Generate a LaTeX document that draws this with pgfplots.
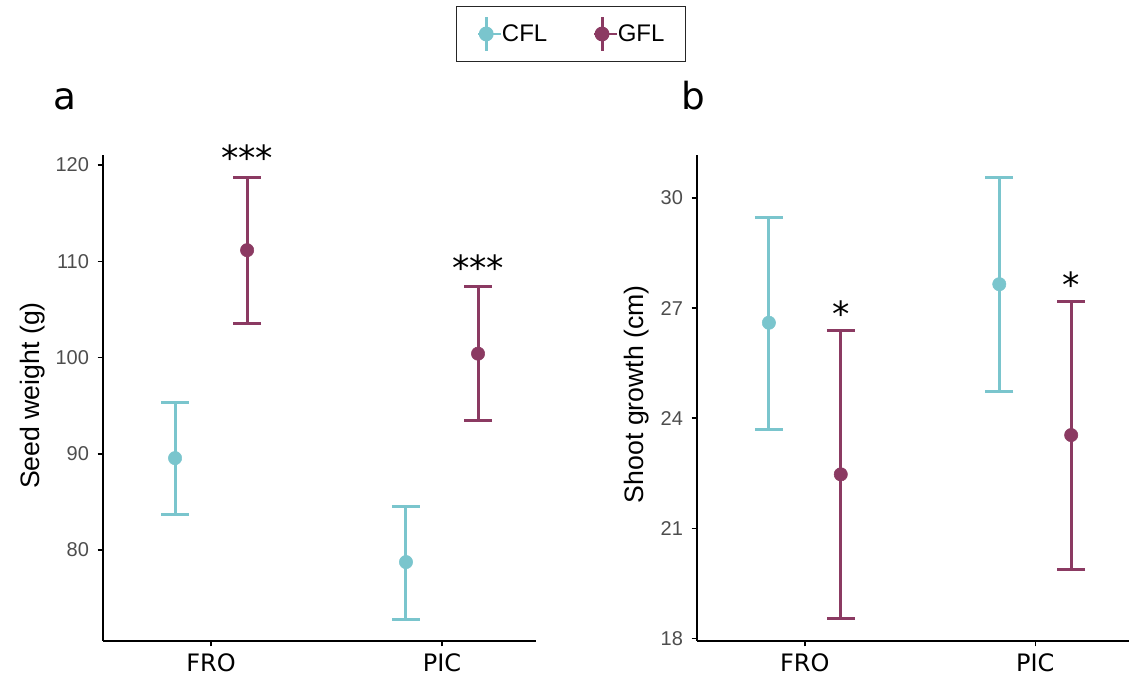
\documentclass[border=0pt]{standalone}
\usepackage{pgfplots}
\usepackage{pgfplotstable}
\pgfplotsset{compat=1.18}
\usepackage{fontspec}
\setmainfont{Liberation Sans}
\newfontfamily\dvs{DejaVu Sans}
\definecolor{cflc}{HTML}{7AC5CD}
\definecolor{gflc}{HTML}{8B3A62}
\definecolor{tickgrey}{HTML}{4D4D4D}

\pgfplotstableread{
x y lo hi
0.844 89.55 83.65 95.35
1.844 78.75 72.83 84.57
}\cflA
\pgfplotstableread{
x y lo hi
1.156 111.15 103.55 118.72
2.156 100.40 93.50 107.35
}\gflA
\pgfplotstableread{
x y lo hi
0.844 26.60 23.69 29.48
1.844 27.65 24.74 30.56
}\cflB
\pgfplotstableread{
x y lo hi
1.156 22.47 18.55 26.38
2.156 23.54 19.89 27.19
}\gflB

\pgfplotsset{
 panel/.style={
  scale only axis, width=324.75pt, height=364.5pt,
  axis lines=left, axis line style={line width=1.1pt,-},
  xmin=0.532, xmax=2.407,
  xtick={1,2}, xticklabels={FRO,PIC},
  x tick label style={font=\dvs\fontsize{18}{21}\selectfont, text=black, yshift=-2pt},
  y tick label style={font=\fontsize{15}{18}\selectfont, text=tickgrey, xshift=-3pt},
  tick style={line width=1.1pt, black}, tick align=outside, major tick length=4pt,
  /pgf/number format/assume math mode=true,
  every axis y label/.style={rotate=90, anchor=center, font=\fontsize{20}{24}\selectfont},
  clip=false,
 },
 ebar/.style={only marks, mark=*, mark size=5pt, color=#1,
  mark options={draw=none, fill=#1},
  error bars/.cd, y dir=both, y explicit,
  error bar style={line width=2.25pt, color=#1},
  error mark options={rotate=90, line width=2.25pt, mark size=10.5pt, color=#1}},
}

\begin{document}
\begin{tikzpicture}
\path[use as bounding box] (0,0) rectangle (855pt,508.5pt);

\begin{axis}[panel, at={(77.25pt,27.75pt)}, anchor=south west,
  ymin=70.55, ymax=121.04, ytick={80,90,100,110,120},
  ylabel={Seed weight (g)}, ylabel style={at={(axis description cs:-0.1617,0.505)}},
  legend style={at={(axis description cs:1.0808,1.249)}, anchor=center,
    legend columns=2, draw=black!85, line width=1.1pt,
    font=\fontsize{18}{21}\selectfont, inner xsep=15.75pt, inner ysep=7pt,
    nodes={inner xsep=0pt, inner ysep=0pt},
    /tikz/every even column/.append style={column sep=34.5pt}},
  legend image code/.code={\path (0pt,0pt) -- (17.25pt,0pt); \draw[line width=2.25pt,#1] (6pt,-12.5pt)--(6pt,12.5pt); \fill[#1] (6pt,0pt) circle (5pt);},
]
\addlegendimage{cflc}
\addlegendentry{CFL}
\addlegendimage{gflc}
\addlegendentry{GFL}
\addplot[forget plot, ebar=cflc] table[x=x, y=y, y error plus expr=\thisrow{hi}-\thisrow{y}, y error minus expr=\thisrow{y}-\thisrow{lo}] {\cflA};
\addplot[forget plot, ebar=gflc] table[x=x, y=y, y error plus expr=\thisrow{hi}-\thisrow{y}, y error minus expr=\thisrow{y}-\thisrow{lo}] {\gflA};
\node[anchor=base, font=\dvs\fontsize{26}{30}\selectfont, yshift=5pt] at (axis cs:1.156,118.72) {***};
\node[anchor=base, font=\dvs\fontsize{26}{30}\selectfont, yshift=5pt] at (axis cs:2.156,107.35) {***};
\node[anchor=base, font=\dvs\fontsize{28}{32}\selectfont] at (axis description cs:-0.0878,1.0926) {a};
\end{axis}

\begin{axis}[panel, at={(522.75pt,27.75pt)}, anchor=south west, width=324pt,
  ymin=17.93, ymax=31.17, ytick={18,21,24,27,30},
  ylabel={Shoot growth (cm)}, ylabel style={at={(axis description cs:-0.139,0.508)}},
]
\addplot[ebar=cflc] table[x=x, y=y, y error plus expr=\thisrow{hi}-\thisrow{y}, y error minus expr=\thisrow{y}-\thisrow{lo}] {\cflB};
\addplot[ebar=gflc] table[x=x, y=y, y error plus expr=\thisrow{hi}-\thisrow{y}, y error minus expr=\thisrow{y}-\thisrow{lo}] {\gflB};
\node[anchor=base, font=\dvs\fontsize{26}{30}\selectfont, yshift=3pt] at (axis cs:1.156,26.38) {*};
\node[anchor=base, font=\dvs\fontsize{26}{30}\selectfont, yshift=3pt] at (axis cs:2.156,27.19) {*};
\node[anchor=base, font=\dvs\fontsize{28}{32}\selectfont] at (axis description cs:-0.009,1.0926) {b};
\end{axis}
\end{tikzpicture}
\end{document}
